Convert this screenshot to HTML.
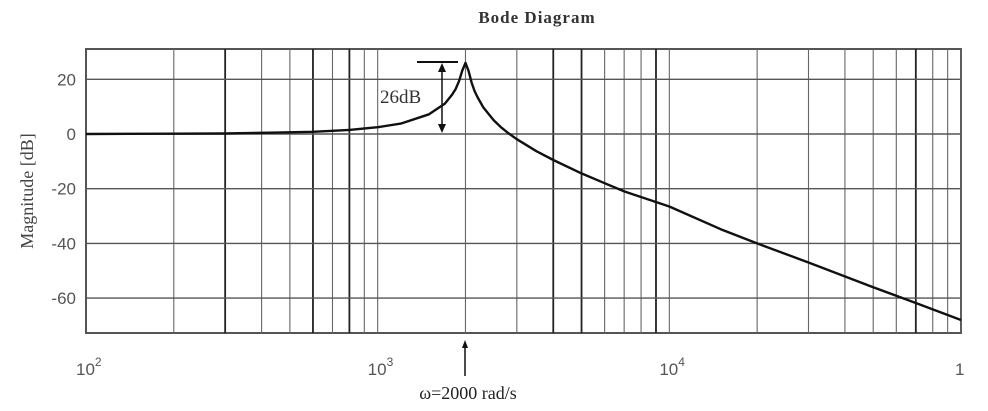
<!DOCTYPE html>
<html><head><meta charset="utf-8"><style>
body{margin:0;background:#fff;width:988px;height:411px;overflow:hidden}
svg{display:block}
</style></head><body>
<svg id="chart" width="988" height="411" xmlns="http://www.w3.org/2000/svg">
<text x="537" y="23" text-anchor="middle" font-family="Liberation Serif, serif" font-size="17" font-weight="bold" letter-spacing="1" fill="#333">Bode Diagram</text>
<text transform="translate(33,191) rotate(-90)" text-anchor="middle" font-family="Liberation Serif, serif" font-size="18" fill="#444">Magnitude [dB]</text>
<g id="grid"></g><g id="ticks"></g><g id="series"></g>
<g>
<line x1="417" y1="62" x2="458" y2="62" stroke="#111" stroke-width="2"/>
<line x1="442" y1="66" x2="442" y2="129" stroke="#111" stroke-width="1.5"/>
<polygon points="438,72 446,72 442,63" fill="#111"/>
<polygon points="438,124 446,124 442,133" fill="#111"/>
<text x="380" y="103" font-family="Liberation Serif, serif" font-size="19" fill="#333">26dB</text>
</g>
<g>
<line x1="465" y1="345" x2="465" y2="376" stroke="#111" stroke-width="1.5"/>
<polygon points="462,348 468,348 465,340" fill="#111"/>
<text x="468" y="399" text-anchor="middle" font-family="Liberation Serif, serif" font-size="18" fill="#222">ω=2000 rad/s</text>
</g>
</svg>
<script>
const freqs=[100,200,300,450,600,800,1000,1200,1500,1700,1800,1850,1900,1950,2000,2050,2100,2150,2200,2300,2500,2640,2800,3000,3500,4000,5000,6000,7000,10000,15000,20000,30000,50000,70000,100000];
const magDb=[0,0.1,0.2,0.5,0.8,1.5,2.5,3.8,7.2,11.1,14.4,16.4,19.3,23.2,26,23,18.8,15.7,13.5,9.8,5,2.6,0.35,-1.9,-6.3,-9.5,-14.4,-18,-21,-26.5,-34.8,-40,-47,-56,-61.8,-68];
const yTicks=[20,0,-20,-40,-60];
const xDecades=[2,3,4,5];
const xDecadeLabels=["10","10","10","1"];
const xDecadeSup=["2","3","4",""];
const boldFreqs=[300,600,800,4000,5000,9000,70000];
const L=86,R=961,T=49,B=333;
const x=w=>L+(Math.log10(w)-2)/3*(R-L);
const y=v=>134-v*2.735;
const ns="http://www.w3.org/2000/svg";
function mk(t,a,p){const e=document.createElementNS(ns,t);for(const k in a)e.setAttribute(k,a[k]);p.appendChild(e);return e;}
const grid=document.getElementById('grid'),ticks=document.getElementById('ticks'),series=document.getElementById('series');
const bg=mk('rect',{x:L,y:T,width:R-L,height:B-T,fill:'#fff',stroke:'#555','stroke-width':2},grid);


for(let d=2;d<5;d++){for(let m=2;m<=10;m++){const w=m*Math.pow(10,d);const xx=x(w);
const bold=boldFreqs.includes(w);
const g=mk('line',{x1:xx,x2:xx,y1:T,y2:B,stroke:bold?'#222':'#666','stroke-width':bold?1.8:1.1},grid);

}}
yTicks.forEach(v=>{const g=mk('line',{x1:L,x2:R,y1:y(v),y2:y(v),stroke:'#555','stroke-width':1.4},grid);


const t=mk('text',{x:76,y:y(v)+6,'text-anchor':'end','font-family':'Liberation Sans, sans-serif','font-size':17,fill:'#555'},ticks);
t.textContent=v;

});
xDecades.forEach((d,i)=>{const xx=x(Math.pow(10,d));
const t=mk('text',{x:xx-(xDecadeSup[i]?10:6),y:375,'font-family':'Liberation Sans, sans-serif','font-size':17,fill:'#555'},ticks);
t.textContent=xDecadeLabels[i];


if(xDecadeSup[i]){const s=mk('tspan',{dy:-9,'font-size':12},t);s.textContent=xDecadeSup[i];}});
const pts=freqs.map((f,i)=>x(f).toFixed(1)+','+y(magDb[i]).toFixed(1));
const path=mk('polyline',{points:pts.join(' '),fill:'none',stroke:'#111','stroke-width':2.4,'stroke-linejoin':'round'},series);


</script>
</body></html>
